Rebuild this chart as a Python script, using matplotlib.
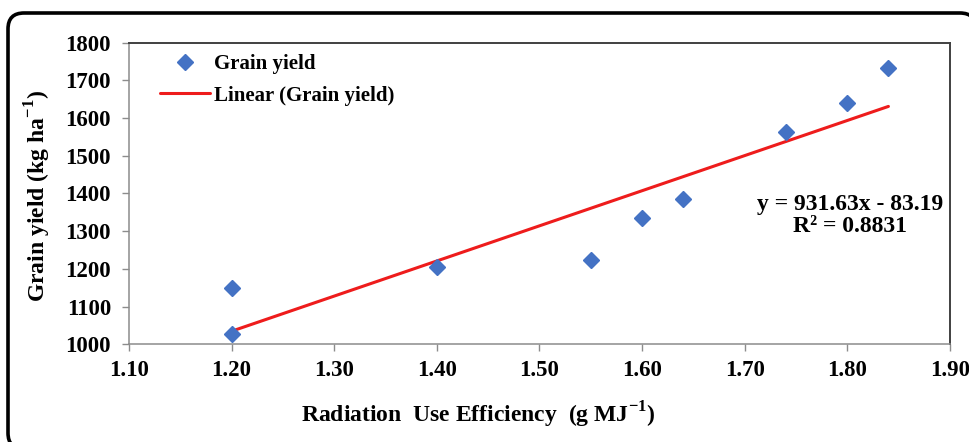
import numpy as np
import matplotlib
matplotlib.use("Agg")
import matplotlib.pyplot as plt
from matplotlib.patches import FancyBboxPatch

plt.rcParams.update({
    "font.family": ["Liberation Serif", "DejaVu Serif"],
    "font.weight": "bold",
    "mathtext.fontset": "custom",
    "mathtext.rm": "Liberation Serif",
    "mathtext.bf": "Liberation Serif:bold",
})

# radiation use efficiency (g MJ-1) and grain yield (kg ha-1)
rue = [1.20, 1.20, 1.40, 1.55, 1.60, 1.64, 1.74, 1.80, 1.84]
grain_yield = [1150, 1027, 1204, 1224, 1335, 1386, 1564, 1640, 1732]

# fitted linear trend
slope = 931.63
intercept = -83.19
r_squared = 0.8831

x_ticks = [1.10, 1.20, 1.30, 1.40, 1.50, 1.60, 1.70, 1.80, 1.90]
y_ticks = [1000, 1100, 1200, 1300, 1400, 1500, 1600, 1700, 1800]

fig = plt.figure(figsize=(9.7, 4.42), dpi=100)

# rounded outer frame drawn in pixel units
bg = fig.add_axes([0, 0, 1, 1], zorder=0)
bg.set_xlim(0, 970)
bg.set_ylim(442, 0)
bg.axis("off")
bg.add_patch(FancyBboxPatch((8, 13), 968, 436,
                            boxstyle="round,pad=0,rounding_size=16",
                            fc="white", ec="black", lw=2.6))

ax = fig.add_axes([129 / 970, 97.7 / 442, 821 / 970, 301.6 / 442], zorder=1)

trend_x = np.array([min(rue), max(rue)])
ax.plot(trend_x, slope * trend_x + intercept, color="#EE1C1C", lw=2.2,
        solid_capstyle="round", label="Linear (Grain yield)", zorder=3)
ax.plot(rue, grain_yield, "D", color="#4472C4", ms=8, mec="#4472C4",
        linestyle="none", label="Grain yield", zorder=4)

ax.set_xlim(1.10, 1.90)
ax.set_ylim(1000, 1800)
ax.set_xticks(x_ticks)
ax.set_xticklabels([f"{v:.2f}" for v in x_ticks])
ax.set_yticks(y_ticks)
ax.tick_params(labelsize=16.5, length=5, width=1, color="#8c8c8c")
ax.tick_params(axis="x", pad=6)
ax.tick_params(axis="y", pad=8)

for side in ("left", "bottom"):
    ax.spines[side].set_color("#8c8c8c")
    ax.spines[side].set_linewidth(1.1)
for side in ("top", "right"):
    ax.spines[side].set_color("#404040")
    ax.spines[side].set_linewidth(1.4)

ax.set_xlabel(r"Radiation  Use Efficiency  (g MJ$^{\mathbf{-1}}$)",
              fontsize=17, fontweight="bold")
ax.xaxis.set_label_coords(0.425, -0.185)
ax.set_ylabel(r"Grain yield (kg ha$^{\mathbf{-1}}$)", fontsize=17,
              fontweight="bold")
ax.yaxis.set_label_coords(-0.092, 0.493)

handles, labels = ax.get_legend_handles_labels()
ax.legend(handles[::-1], labels[::-1], loc="upper left", frameon=False,
          fontsize=15, bbox_to_anchor=(0.02, 1.01), handlelength=2.4,
          handletextpad=0.2, labelspacing=0.55, borderaxespad=0.3)

ax.text(0.878, 0.427,
        f"y = {slope:.2f}x - {abs(intercept):.2f}\nR\u00b2 = {r_squared:.4f}",
        transform=ax.transAxes, ha="center", va="center", fontsize=17,
        fontweight="bold", linespacing=1.05)

fig.savefig("out.png", dpi=100)
